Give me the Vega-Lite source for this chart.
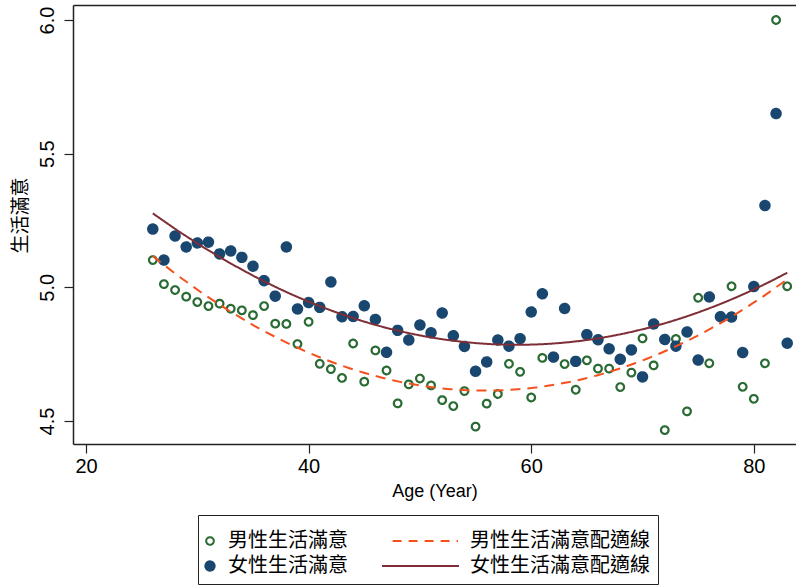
{
  "$schema": "https://vega.github.io/schema/vega-lite/v6.json",
  "width": 723,
  "height": 439,
  "autosize": "none",
  "padding": {"left": 73, "top": 5, "right": 0, "bottom": 144},
  "background": "white",
  "config": {
    "view": {"stroke": null},
    "font": "Liberation Sans, Noto Sans CJK TC, sans-serif",
    "axis": {
      "grid": false,
      "domainColor": "#222",
      "tickColor": "#222",
      "domainWidth": 1.5,
      "tickWidth": 1.2,
      "labelColor": "black",
      "titleColor": "black",
      "labelFont": "Liberation Sans, Noto Sans CJK TC, sans-serif",
      "titleFont": "Liberation Sans, Noto Sans CJK TC, sans-serif",
      "titleFontWeight": "normal"
    },
    "legend": {
      "labelFont": "Liberation Sans, Noto Sans CJK TC, sans-serif"
    }
  },
  "datasets": {
    "pts": [
      {"age": 26, "series": "男性生活滿意", "fit": "男性生活滿意配適線", "v": 5.102},
      {"age": 27, "series": "男性生活滿意", "fit": "男性生活滿意配適線", "v": 5.012},
      {"age": 28, "series": "男性生活滿意", "fit": "男性生活滿意配適線", "v": 4.990},
      {"age": 29, "series": "男性生活滿意", "fit": "男性生活滿意配適線", "v": 4.965},
      {"age": 30, "series": "男性生活滿意", "fit": "男性生活滿意配適線", "v": 4.945},
      {"age": 31, "series": "男性生活滿意", "fit": "男性生活滿意配適線", "v": 4.930},
      {"age": 32, "series": "男性生活滿意", "fit": "男性生活滿意配適線", "v": 4.939},
      {"age": 33, "series": "男性生活滿意", "fit": "男性生活滿意配適線", "v": 4.920},
      {"age": 34, "series": "男性生活滿意", "fit": "男性生活滿意配適線", "v": 4.914},
      {"age": 35, "series": "男性生活滿意", "fit": "男性生活滿意配適線", "v": 4.896},
      {"age": 36, "series": "男性生活滿意", "fit": "男性生活滿意配適線", "v": 4.930},
      {"age": 37, "series": "男性生活滿意", "fit": "男性生活滿意配適線", "v": 4.864},
      {"age": 38, "series": "男性生活滿意", "fit": "男性生活滿意配適線", "v": 4.863},
      {"age": 39, "series": "男性生活滿意", "fit": "男性生活滿意配適線", "v": 4.788},
      {"age": 40, "series": "男性生活滿意", "fit": "男性生活滿意配適線", "v": 4.871},
      {"age": 41, "series": "男性生活滿意", "fit": "男性生活滿意配適線", "v": 4.714},
      {"age": 42, "series": "男性生活滿意", "fit": "男性生活滿意配適線", "v": 4.694},
      {"age": 43, "series": "男性生活滿意", "fit": "男性生活滿意配適線", "v": 4.661},
      {"age": 44, "series": "男性生活滿意", "fit": "男性生活滿意配適線", "v": 4.790},
      {"age": 45, "series": "男性生活滿意", "fit": "男性生活滿意配適線", "v": 4.647},
      {"age": 46, "series": "男性生活滿意", "fit": "男性生活滿意配適線", "v": 4.764},
      {"age": 47, "series": "男性生活滿意", "fit": "男性生活滿意配適線", "v": 4.689},
      {"age": 48, "series": "男性生活滿意", "fit": "男性生活滿意配適線", "v": 4.566},
      {"age": 49, "series": "男性生活滿意", "fit": "男性生活滿意配適線", "v": 4.637},
      {"age": 50, "series": "男性生活滿意", "fit": "男性生活滿意配適線", "v": 4.659},
      {"age": 51, "series": "男性生活滿意", "fit": "男性生活滿意配適線", "v": 4.633},
      {"age": 52, "series": "男性生活滿意", "fit": "男性生活滿意配適線", "v": 4.578},
      {"age": 53, "series": "男性生活滿意", "fit": "男性生活滿意配適線", "v": 4.556},
      {"age": 54, "series": "男性生活滿意", "fit": "男性生活滿意配適線", "v": 4.612},
      {"age": 55, "series": "男性生活滿意", "fit": "男性生活滿意配適線", "v": 4.479},
      {"age": 56, "series": "男性生活滿意", "fit": "男性生活滿意配適線", "v": 4.565},
      {"age": 57, "series": "男性生活滿意", "fit": "男性生活滿意配適線", "v": 4.601},
      {"age": 58, "series": "男性生活滿意", "fit": "男性生活滿意配適線", "v": 4.714},
      {"age": 59, "series": "男性生活滿意", "fit": "男性生活滿意配適線", "v": 4.684},
      {"age": 60, "series": "男性生活滿意", "fit": "男性生活滿意配適線", "v": 4.588},
      {"age": 61, "series": "男性生活滿意", "fit": "男性生活滿意配適線", "v": 4.736},
      {"age": 62, "series": "男性生活滿意", "fit": "男性生活滿意配適線", "v": 4.739},
      {"age": 63, "series": "男性生活滿意", "fit": "男性生活滿意配適線", "v": 4.713},
      {"age": 64, "series": "男性生活滿意", "fit": "男性生活滿意配適線", "v": 4.617},
      {"age": 65, "series": "男性生活滿意", "fit": "男性生活滿意配適線", "v": 4.727},
      {"age": 66, "series": "男性生活滿意", "fit": "男性生活滿意配適線", "v": 4.696},
      {"age": 67, "series": "男性生活滿意", "fit": "男性生活滿意配適線", "v": 4.696},
      {"age": 68, "series": "男性生活滿意", "fit": "男性生活滿意配適線", "v": 4.627},
      {"age": 69, "series": "男性生活滿意", "fit": "男性生活滿意配適線", "v": 4.681},
      {"age": 70, "series": "男性生活滿意", "fit": "男性生活滿意配適線", "v": 4.809},
      {"age": 71, "series": "男性生活滿意", "fit": "男性生活滿意配適線", "v": 4.708},
      {"age": 72, "series": "男性生活滿意", "fit": "男性生活滿意配適線", "v": 4.466},
      {"age": 73, "series": "男性生活滿意", "fit": "男性生活滿意配適線", "v": 4.807},
      {"age": 74, "series": "男性生活滿意", "fit": "男性生活滿意配適線", "v": 4.536},
      {"age": 75, "series": "男性生活滿意", "fit": "男性生活滿意配適線", "v": 4.961},
      {"age": 76, "series": "男性生活滿意", "fit": "男性生活滿意配適線", "v": 4.716},
      {"age": 77, "series": "男性生活滿意", "fit": "男性生活滿意配適線", "v": 4.892},
      {"age": 78, "series": "男性生活滿意", "fit": "男性生活滿意配適線", "v": 5.004},
      {"age": 79, "series": "男性生活滿意", "fit": "男性生活滿意配適線", "v": 4.628},
      {"age": 80, "series": "男性生活滿意", "fit": "男性生活滿意配適線", "v": 4.583},
      {"age": 81, "series": "男性生活滿意", "fit": "男性生活滿意配適線", "v": 4.716},
      {"age": 82, "series": "男性生活滿意", "fit": "男性生活滿意配適線", "v": 6.000},
      {"age": 83, "series": "男性生活滿意", "fit": "男性生活滿意配適線", "v": 5.004},
      {"age": 26, "series": "女性生活滿意", "fit": "女性生活滿意配適線", "v": 5.218},
      {"age": 27, "series": "女性生活滿意", "fit": "女性生活滿意配適線", "v": 5.102},
      {"age": 28, "series": "女性生活滿意", "fit": "女性生活滿意配適線", "v": 5.192},
      {"age": 29, "series": "女性生活滿意", "fit": "女性生活滿意配適線", "v": 5.151},
      {"age": 30, "series": "女性生活滿意", "fit": "女性生活滿意配適線", "v": 5.166},
      {"age": 31, "series": "女性生活滿意", "fit": "女性生活滿意配適線", "v": 5.169},
      {"age": 32, "series": "女性生活滿意", "fit": "女性生活滿意配適線", "v": 5.125},
      {"age": 33, "series": "女性生活滿意", "fit": "女性生活滿意配適線", "v": 5.136},
      {"age": 34, "series": "女性生活滿意", "fit": "女性生活滿意配適線", "v": 5.112},
      {"age": 35, "series": "女性生活滿意", "fit": "女性生活滿意配適線", "v": 5.079},
      {"age": 36, "series": "女性生活滿意", "fit": "女性生活滿意配適線", "v": 5.025},
      {"age": 37, "series": "女性生活滿意", "fit": "女性生活滿意配適線", "v": 4.967},
      {"age": 38, "series": "女性生活滿意", "fit": "女性生活滿意配適線", "v": 5.151},
      {"age": 39, "series": "女性生活滿意", "fit": "女性生活滿意配適線", "v": 4.919},
      {"age": 40, "series": "女性生活滿意", "fit": "女性生活滿意配適線", "v": 4.943},
      {"age": 41, "series": "女性生活滿意", "fit": "女性生活滿意配適線", "v": 4.925},
      {"age": 42, "series": "女性生活滿意", "fit": "女性生活滿意配適線", "v": 5.020},
      {"age": 43, "series": "女性生活滿意", "fit": "女性生活滿意配適線", "v": 4.890},
      {"age": 44, "series": "女性生活滿意", "fit": "女性生活滿意配適線", "v": 4.891},
      {"age": 45, "series": "女性生活滿意", "fit": "女性生活滿意配適線", "v": 4.931},
      {"age": 46, "series": "女性生活滿意", "fit": "女性生活滿意配適線", "v": 4.880},
      {"age": 47, "series": "女性生活滿意", "fit": "女性生活滿意配適線", "v": 4.757},
      {"age": 48, "series": "女性生活滿意", "fit": "女性生活滿意配適線", "v": 4.839},
      {"age": 49, "series": "女性生活滿意", "fit": "女性生活滿意配適線", "v": 4.803},
      {"age": 50, "series": "女性生活滿意", "fit": "女性生活滿意配適線", "v": 4.859},
      {"age": 51, "series": "女性生活滿意", "fit": "女性生活滿意配適線", "v": 4.830},
      {"age": 52, "series": "女性生活滿意", "fit": "女性生活滿意配適線", "v": 4.904},
      {"age": 53, "series": "女性生活滿意", "fit": "女性生活滿意配適線", "v": 4.819},
      {"age": 54, "series": "女性生活滿意", "fit": "女性生活滿意配適線", "v": 4.779},
      {"age": 55, "series": "女性生活滿意", "fit": "女性生活滿意配適線", "v": 4.686},
      {"age": 56, "series": "女性生活滿意", "fit": "女性生活滿意配適線", "v": 4.721},
      {"age": 57, "series": "女性生活滿意", "fit": "女性生活滿意配適線", "v": 4.803},
      {"age": 58, "series": "女性生活滿意", "fit": "女性生活滿意配適線", "v": 4.780},
      {"age": 59, "series": "女性生活滿意", "fit": "女性生活滿意配適線", "v": 4.808},
      {"age": 60, "series": "女性生活滿意", "fit": "女性生活滿意配適線", "v": 4.908},
      {"age": 61, "series": "女性生活滿意", "fit": "女性生活滿意配適線", "v": 4.976},
      {"age": 62, "series": "女性生活滿意", "fit": "女性生活滿意配適線", "v": 4.739},
      {"age": 63, "series": "女性生活滿意", "fit": "女性生活滿意配適線", "v": 4.921},
      {"age": 64, "series": "女性生活滿意", "fit": "女性生活滿意配適線", "v": 4.723},
      {"age": 65, "series": "女性生活滿意", "fit": "女性生活滿意配適線", "v": 4.823},
      {"age": 66, "series": "女性生活滿意", "fit": "女性生活滿意配適線", "v": 4.804},
      {"age": 67, "series": "女性生活滿意", "fit": "女性生活滿意配適線", "v": 4.770},
      {"age": 68, "series": "女性生活滿意", "fit": "女性生活滿意配適線", "v": 4.731},
      {"age": 69, "series": "女性生活滿意", "fit": "女性生活滿意配適線", "v": 4.766},
      {"age": 70, "series": "女性生活滿意", "fit": "女性生活滿意配適線", "v": 4.665},
      {"age": 71, "series": "女性生活滿意", "fit": "女性生活滿意配適線", "v": 4.863},
      {"age": 72, "series": "女性生活滿意", "fit": "女性生活滿意配適線", "v": 4.805},
      {"age": 73, "series": "女性生活滿意", "fit": "女性生活滿意配適線", "v": 4.780},
      {"age": 74, "series": "女性生活滿意", "fit": "女性生活滿意配適線", "v": 4.833},
      {"age": 75, "series": "女性生活滿意", "fit": "女性生活滿意配適線", "v": 4.728},
      {"age": 76, "series": "女性生活滿意", "fit": "女性生活滿意配適線", "v": 4.964},
      {"age": 77, "series": "女性生活滿意", "fit": "女性生活滿意配適線", "v": 4.890},
      {"age": 78, "series": "女性生活滿意", "fit": "女性生活滿意配適線", "v": 4.889},
      {"age": 79, "series": "女性生活滿意", "fit": "女性生活滿意配適線", "v": 4.756},
      {"age": 80, "series": "女性生活滿意", "fit": "女性生活滿意配適線", "v": 5.003},
      {"age": 81, "series": "女性生活滿意", "fit": "女性生活滿意配適線", "v": 5.306},
      {"age": 82, "series": "女性生活滿意", "fit": "女性生活滿意配適線", "v": 5.650},
      {"age": 83, "series": "女性生活滿意", "fit": "女性生活滿意配適線", "v": 4.791}
    ]
  },
  "resolve": {"axis": {"x": "independent"}},
  "layer": [
    {
      "data": {"name": "pts"},
      "mark": {"type": "point", "filled": false, "opacity": 1, "strokeWidth": 2.2},
      "encoding": {
        "x": {
          "field": "age", "type": "quantitative",
          "scale": {"domain": [18.83, 83.79], "nice": false, "zero": false},
          "axis": {
            "orient": "bottom",
            "values": [20, 40, 60, 80],
            "title": "Age (Year)",
            "labelFontSize": 20,
            "titleFontSize": 18,
            "tickSize": 9,
            "labelPadding": 3,
            "titlePadding": 6,
            "labelFlush": false,
            "labelOverlap": false
          }
        },
        "y": {
          "field": "v", "type": "quantitative",
          "scale": {"domain": [4.414, 6.056], "nice": false, "zero": false},
          "axis": {
            "values": [4.5, 5, 5.5, 6],
            "format": ".1f",
            "labelAngle": -90,
            "labelAlign": "center",
            "labelBaseline": "alphabetic",
            "labelFontSize": 20,
            "labelPadding": 11,
            "tickSize": 9,
            "title": "生活滿意",
            "titleFontSize": 19,
            "titlePadding": 7,
            "titleY": 210,
            "labelFlush": false,
            "labelOverlap": false
          }
        },
        "stroke": {
          "field": "series", "type": "nominal",
          "scale": {
            "domain": ["男性生活滿意", "男性生活滿意配適線", "女性生活滿意", "女性生活滿意配適線"],
            "range": ["#2a6a33", "#f4511e", "#1a476f", "#7d2e36"]
          },
          "legend": {
            "orient": "none",
            "legendX": 125,
            "legendY": 510,
            "title": " ",
            "titleFontSize": 8,
            "titlePadding": 0,
            "columns": 2,
            "columnPadding": 30,
            "rowPadding": 5,
            "padding": 8,
            "strokeColor": "#222",
            "fillColor": "white",
            "labelFontSize": 20,
            "labelColor": "black",
            "labelLimit": 0,
            "labelOffset": 8,
            "symbolOffset": -6,
            "symbolStrokeWidth": 2,
            "values": ["男性生活滿意", "女性生活滿意", "男性生活滿意配適線", "女性生活滿意配適線"]
          }
        },
        "fill": {
          "field": "series", "type": "nominal",
          "scale": {
            "domain": ["男性生活滿意", "男性生活滿意配適線", "女性生活滿意", "女性生活滿意配適線"],
            "range": ["transparent", "transparent", "#1a476f", "transparent"]
          },
          "legend": {"title": " ", "values": ["男性生活滿意", "女性生活滿意", "男性生活滿意配適線", "女性生活滿意配適線"]}
        },
        "shape": {
          "field": "series", "type": "nominal",
          "scale": {
            "domain": ["男性生活滿意", "男性生活滿意配適線", "女性生活滿意", "女性生活滿意配適線"],
            "range": ["circle", "M-14,0H1.4", "circle", "M-14,0H1.4"]
          },
          "legend": {"title": " ", "values": ["男性生活滿意", "女性生活滿意", "男性生活滿意配適線", "女性生活滿意配適線"]}
        },
        "strokeDash": {
          "field": "series", "type": "nominal",
          "scale": {
            "domain": ["男性生活滿意", "男性生活滿意配適線", "女性生活滿意", "女性生活滿意配適線"],
            "range": [[1, 0], [9, 7], [1, 0], [1, 0]]
          },
          "legend": {"title": " ", "values": ["男性生活滿意", "女性生活滿意", "男性生活滿意配適線", "女性生活滿意配適線"]}
        },
        "size": {
          "field": "series", "type": "nominal",
          "scale": {
            "domain": ["男性生活滿意", "男性生活滿意配適線", "女性生活滿意", "女性生活滿意配適線"],
            "range": [58, 100, 60, 100]
          },
          "legend": {"title": " ", "values": ["男性生活滿意", "女性生活滿意", "男性生活滿意配適線", "女性生活滿意配適線"]}
        }
      }
    },
    {
      "data": {"name": "pts"},
      "transform": [
        {"regression": "v", "on": "age", "groupby": ["fit"], "method": "poly", "order": 2, "extent": [26, 83], "as": ["age", "v"]}
      ],
      "mark": {"type": "line", "strokeWidth": 2},
      "encoding": {
        "x": {
          "field": "age", "type": "quantitative",
          "axis": {"orient": "top", "domain": true, "ticks": false, "labels": false, "title": null}
        },
        "y": {"field": "v", "type": "quantitative"},
        "color": {
          "field": "fit", "type": "nominal", "legend": null,
          "scale": {
            "domain": ["男性生活滿意配適線", "女性生活滿意配適線"],
            "range": ["#f4511e", "#7d2e36"]
          }
        },
        "strokeDash": {
          "condition": {"test": "datum.fit == '男性生活滿意配適線'", "value": [10, 7]},
          "value": [1, 0]
        }
      }
    }
  ]
}
